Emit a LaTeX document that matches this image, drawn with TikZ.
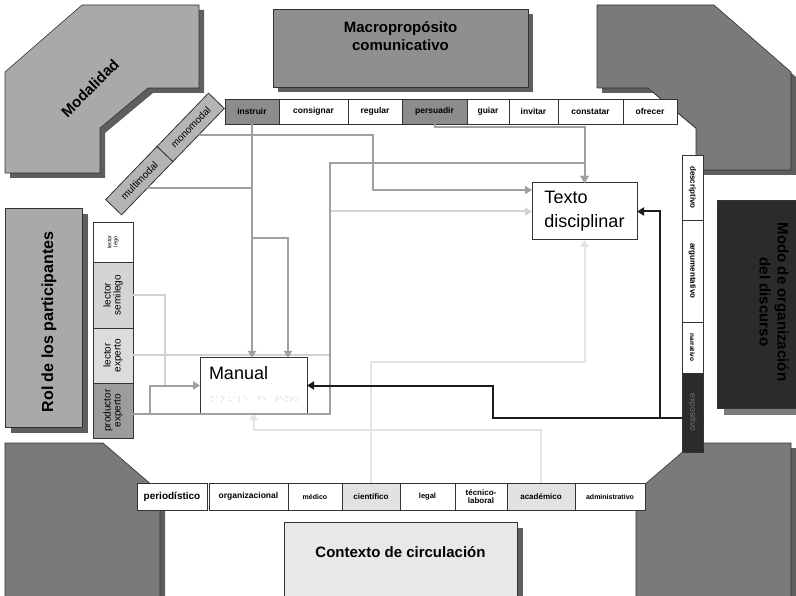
\documentclass[tikz,border=0pt]{standalone}
\usepackage{fontspec}
\setmainfont{Liberation Sans}
\newfontfamily\dvs{DejaVu Sans}
\usetikzlibrary{arrows.meta,calc}
\newcommand{\myfs}[2]{\fontsize{#1}{#2}\selectfont}
\definecolor{gModal}{HTML}{A9A9A9}
\definecolor{gCorner}{HTML}{7A7A7A}
\definecolor{gShadow}{HTML}{5E5E5E}
\definecolor{gMacro}{HTML}{8F8F8F}
\definecolor{gCtx}{HTML}{E8E8E8}
\definecolor{gModo}{HTML}{2B2B2B}
\definecolor{gCellDark}{HTML}{8C8C8C}
\definecolor{gDiag}{HTML}{B4B4B4}
\definecolor{gSemi}{HTML}{D4D4D4}
\definecolor{gExp}{HTML}{DCDCDC}
\definecolor{gProd}{HTML}{9C9C9C}
\definecolor{gCtxCell}{HTML}{E2E2E2}
\definecolor{lnMed}{HTML}{A0A0A0}
\definecolor{lnLite}{HTML}{D2D2D2}
\definecolor{lnVlite}{HTML}{E4E4E4}
\definecolor{lnBlk}{HTML}{1C1C1C}
\definecolor{cEdge}{HTML}{333333}
\begin{document}
\begin{tikzpicture}[x=1pt,y=-1pt,
  every node/.style={inner sep=0pt, outer sep=0pt},
  cell/.style={draw=cEdge, line width=0.8pt, fill=white, minimum height=25pt, font=\bfseries\myfs{8.5}{9}},
  bcell/.style={draw=cEdge, line width=0.8pt, fill=white, minimum height=27pt, font=\bfseries\myfs{8}{8.5}, align=center},
  lcell/.style={draw=cEdge, line width=0.8pt, fill=white, rotate=90, minimum height=40pt, align=center, font=\myfs{10}{10}},
  rcell/.style={draw=cEdge, line width=0.8pt, fill=white, rotate=-90, minimum height=21pt, font=\bfseries\myfs{8}{9}},
  diag/.style={draw=cEdge, line width=0.8pt, fill=gDiag, rotate=46, minimum width=74pt, minimum height=22pt, font=\myfs{10}{10}},
  tbox/.style={draw=cEdge, line width=1pt, fill=white},
  med/.style={draw=lnMed, line width=2pt},
  lite/.style={draw=lnLite, line width=2pt},
  vlite/.style={draw=lnVlite, line width=2pt},
  blk/.style={draw=lnBlk, line width=2pt},
  arr/.style={-{Triangle[length=7pt,width=8pt]}},
  shade/.style={fill=gShadow},
  title/.style={font=\bfseries\myfs{15}{17.5}, align=center}
]
\useasboundingbox (0,0) rectangle (796,596);
\clip (0,0) rectangle (796,596);
\fill[white] (0,0) rectangle (796,596);

% corner shapes
\fill[shade, shift={(5,5)}] (82,5) -- (199,5) -- (199,88) -- (148,88) -- (100,128) -- (100,173) -- (5,173) -- (5,72) -- cycle;
\draw[fill=gModal, draw=cEdge, line width=0.6pt] (82,5) -- (199,5) -- (199,88) -- (148,88) -- (100,128) -- (100,173) -- (5,173) -- (5,72) -- cycle;
\node[rotate=45, font=\bfseries\myfs{15}{17}] (modtxt) at (90,88) {Modalidad};

\fill[shade, shift={(5,5)}] (714,5) -- (597,5) -- (597,88) -- (648,88) -- (696,128) -- (696,170) -- (791,170) -- (791,72) -- cycle;
\draw[fill=gCorner, draw=cEdge, line width=0.6pt] (714,5) -- (597,5) -- (597,88) -- (648,88) -- (696,128) -- (696,170) -- (791,170) -- (791,72) -- cycle;

\fill[shade, shift={(5,5)}] (5,443) -- (103,443) -- (160,492) -- (160,610) -- (5,610) -- cycle;
\draw[fill=gCorner, draw=cEdge, line width=0.6pt] (5,443) -- (103,443) -- (160,492) -- (160,610) -- (5,610) -- cycle;

\fill[shade, shift={(5,5)}] (791,443) -- (693,443) -- (636,492) -- (636,610) -- (791,610) -- cycle;
\draw[fill=gCorner, draw=cEdge, line width=0.6pt] (791,443) -- (693,443) -- (636,492) -- (636,610) -- (791,610) -- cycle;

% big boxes
\fill[shade, shift={(5,5)}] (273,9) rectangle (528,87);
\draw[fill=gMacro, draw=cEdge, line width=0.8pt] (273,9) rectangle (528,87);
\node[title] (macrotxt) at (400.5,36) {Macropropósito\\comunicativo};

\fill[shade, shift={(6,6)}] (284,522) rectangle (517,610);
\draw[fill=gCtx, draw=cEdge, line width=0.8pt] (284,522) rectangle (517,610);
\node[title] (ctxtxt) at (400.5,552) {Contexto de circulación};

\fill[shade, shift={(6,6)}] (5,208) rectangle (82,427);
\draw[fill=gModal, draw=cEdge, line width=0.8pt] (5,208) rectangle (82,427);
\node[title, rotate=90, font=\bfseries\myfs{16}{18}] (roltxt) at (49,322) {Rol de los participantes};

\fill[fill=gCorner, shift={(7,7)}] (717,200) rectangle (810,408);
\draw[fill=gModo, draw=cEdge, line width=0.8pt] (717,200) rectangle (810,408);
\node[title, rotate=-90, text=black, font=\bfseries\myfs{15}{18}] (modotxt) at (774,302) {Modo de organización\\del discurso};

% top row
\node[cell, fill=gCellDark, minimum width=54pt] (instruir) at (252,111.5) {instruir};
\node[cell, minimum width=69pt] (consignar) at (313.5,111.5) {consignar};
\node[cell, minimum width=54pt] (regular) at (375,111.5) {regular};
\node[cell, fill=gCellDark, minimum width=65pt] (persuadir) at (434.5,111.5) {persuadir};
\node[cell, minimum width=42pt] (guiar) at (488,111.5) {guiar};
\node[cell, minimum width=49pt] (invitar) at (533.5,111.5) {invitar};
\node[cell, minimum width=65pt] (constatar) at (590.5,111.5) {constatar};
\node[cell, minimum width=54pt] (ofrecer) at (650,111.5) {ofrecer};

% diagonal modality boxes
\node[diag] (multimodal) at (139.3,180.6) {multimodal};
\node[diag] (monomodal) at (190.7,127.4) {monomodal};

% left column (rotated 90: screen right side = .south)
\node[lcell, minimum width=40pt, font=\myfs{5.5}{6}] (lego) at (113,242) {lector\\lego};
\node[lcell, fill=gSemi, minimum width=66pt] (semilego) at (113,295) {lector\\semilego};
\node[lcell, fill=gExp, minimum width=55pt] (experto) at (113,355.5) {lector\\experto};
\node[lcell, fill=gProd, minimum width=55pt] (productor) at (113,410.5) {productor\\experto};

% right column (rotated -90: screen left side = .south)
\node[rcell, minimum width=65pt] (descriptivo) at (692.5,187.5) {descriptivo};
\node[rcell, minimum width=102pt] (argumentativo) at (692.5,271) {argumentativo};
\node[rcell, minimum width=51pt, font=\bfseries\myfs{6.5}{7}] (narrativo) at (692.5,347.5) {narrativo};
\node[rcell, fill=gModo, text=black!55, minimum width=79pt, font=\myfs{8.5}{9}] (expositivo) at (692.5,412.5) {expositivo};

% bottom row
\node[bcell, minimum width=70pt, font=\bfseries\myfs{10}{10}] (periodistico) at (172,496.5) {periodístico};
\node[bcell, minimum width=79pt, font=\bfseries\myfs{8.5}{9}] (organizacional) at (248.5,496.5) {organizacional};
\node[bcell, minimum width=54pt, font=\bfseries\myfs{7}{8}] (medico) at (315,496.5) {médico};
\node[bcell, fill=gCtxCell, minimum width=58pt] (cientifico) at (371,496.5) {científico};
\node[bcell, minimum width=55pt, font=\bfseries\myfs{7.5}{8}] (legal) at (427.5,496.5) {legal};
\node[bcell, minimum width=52pt] (tecnico) at (481,496.5) {técnico-\\laboral};
\node[bcell, fill=gCtxCell, minimum width=68pt] (academico) at (541,496.5) {académico};
\node[bcell, minimum width=70pt, font=\bfseries\myfs{7}{8}] (administrativo) at (610,496.5) {administrativo};

% central nodes
\node[tbox, minimum width=107pt, minimum height=55pt] (manual) at (253.5,385.5) {};
\node[anchor=base west, font=\myfs{18}{20}] (manualtxt) at (209,380) {Manual};
\node[anchor=west, text=black!22, font=\dvs\myfs{7}{8}] (braille) at (210,400) {⠍⠁⠝\hspace{2pt}⠥⠁⠇⠑\hspace{8pt}⠙⠑\hspace{8pt}⠞⠑⠭⠞⠕};
\node[tbox, minimum width=105pt, minimum height=57pt, align=left, font=\myfs{18}{24}] (texto) at (584.5,211.5) {Texto\\disciplinar};

% helper coordinates
\coordinate (br1) at (288,238);
\coordinate (m1) at (373,190);
\coordinate (v330) at (330,163);
\coordinate (pe) at ([yshift=-3.5pt]productor.south);
\coordinate (ex) at ([yshift=-5pt]expositivo.south);

% very light connectors (context)
\draw[vlite,arr] (cientifico.north) |- ($(texto.south)+(0,122)$) -- (texto.south);
\draw[vlite,arr] (academico.north) |- ($(manual.south)+(0,17)$) -- (manual.south);

% light connectors
\draw[lite,arr] (experto.south) -| (v330 |- texto.west) -- (texto.west);
\draw[lite,arr] (semilego.south) -| ($(manual.west)+(-35,0)$) -- (manual.west);

% medium connectors
\draw[med] (multimodal.south) -- (multimodal.south -| instruir.south);
\draw[med,arr] (instruir.south) -- (instruir.south |- manual.north);
\draw[med,arr] (instruir.south |- br1) -| (br1 |- manual.north);
\draw[med,arr] (monomodal.south) -| (m1) -- (m1 -| texto.west);
\draw[med,arr] (persuadir.south) -- ++(0,3) -| (texto.north);
\draw[med,arr] (pe) -| (v330) -| (texto.north);
\draw[med,arr] (pe) -| ($(manual.west)+(-50,0)$) -- (manual.west);

% black connectors
\draw[blk,arr] (ex) -| ($(texto.east)+(23,0)$) -- (texto.east);
\draw[blk,arr] (ex) -| ($(manual.east)+(186,0)$) -- (manual.east);
\end{tikzpicture}
\end{document}
